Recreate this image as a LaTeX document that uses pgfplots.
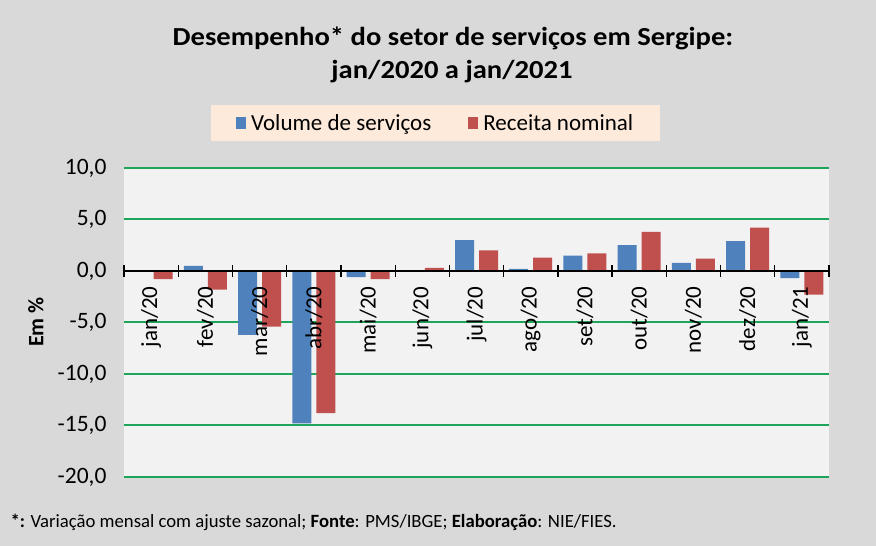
\documentclass[border=0pt]{standalone}
\usepackage{pgfplots}
\pgfplotsset{compat=1.18}
\usepackage{fontspec}
\setmainfont{Carlito}
\definecolor{bgc}{HTML}{D9D9D9}
\definecolor{plotc}{HTML}{F2F2F2}
\definecolor{legc}{HTML}{FDEADA}
\definecolor{bluec}{HTML}{4F81BD}
\definecolor{redc}{HTML}{C0504D}
\definecolor{gridc}{HTML}{1FA55A}
\pgfplotsset{
 base/.style={
  at={(124pt,69pt)}, anchor=south west,
  scale only axis, width=705pt, height=309pt,
  xmin=-0.5, xmax=12.5, ymin=-20, ymax=10,
 },
}
\pgfplotstableread{
x vol rec
0 0.0 -0.8
1 0.5 -1.8
2 -6.2 -5.4
3 -14.8 -13.8
4 -0.6 -0.8
5 0.0 0.3
6 3.0 2.0
7 0.2 1.3
8 1.5 1.7
9 2.5 3.8
10 0.8 1.2
11 2.9 4.2
12 -0.7 -2.3
}\datatab
\begin{document}
\begin{tikzpicture}
\fill[bgc] (0pt,0pt) rectangle (876pt,546pt);
\node[font=\bfseries\fontsize{26}{30}\selectfont] at (453pt,508pt) {\scalebox{1.1}[1]{Desempenho* do setor de serviços em Sergipe:}};
\node[font=\bfseries\fontsize{26}{30}\selectfont] at (452pt,474pt) {\scalebox{1.1}[1]{jan/2020 a jan/2021}};
\node[font=\bfseries\fontsize{22}{26}\selectfont, rotate=90] at (36pt,224pt) {Em \%};
\node[anchor=west, font=\fontsize{18.7}{22}\selectfont] at (7pt,24pt) {\textbf{*:} Variação mensal com ajuste sazonal; \textbf{Fonte}: PMS/IBGE; \textbf{Elaboração}: NIE/FIES.};
\begin{axis}[
 base,
 axis x line=none, axis y line*=left,
 y axis line style={draw=none},
 axis background/.style={fill=plotc},
 xtick=\empty,
 ytick={-20,-15,...,10},
 major y tick style={draw=none},
 yticklabel style={font=\fontsize{23.5}{26}\selectfont, xshift=-14pt},
 /pgf/number format/.cd, fixed, fixed zerofill, precision=1, use comma, assume math mode=true,
 /pgfplots/.cd,
 ymajorgrids, grid style={gridc, line width=2pt},
 legend style={at={(0.442,1.146)}, anchor=center, fill=legc, draw=none, legend columns=2,
   font=\fontsize{23}{26}\selectfont, inner xsep=25pt, inner ysep=7pt,
   /tikz/every even column/.append style={column sep=35pt}},
 legend image code/.code={\fill[#1] (0pt,-6pt) rectangle (10pt,6pt); \path (13pt,0pt);},
]
\addplot[ybar, bar width=19pt, bar shift=-12pt, fill=bluec, draw=none] table[x=x,y=vol]{\datatab};
\addplot[ybar, bar width=19pt, bar shift=12pt, fill=redc, draw=none] table[x=x,y=rec]{\datatab};
\legend{Volume de serviços, Receita nominal}
\end{axis}
\begin{axis}[
 base,
 axis x line*=middle, axis y line=none,
 x axis line style={black, line width=1.5pt},
 ytick=\empty,
 xtick={0,...,12},
 xticklabels={jan/20,fev/20,mar/20,abr/20,mai/20,jun/20,jul/20,ago/20,set/20,out/20,nov/20,dez/20,jan/21},
 major x tick style={draw=none},
 minor xtick={-0.5,0.5,...,12.5},
 minor tick length=12pt,
 minor x tick style={black, line width=1.3pt},
 tick align=center,
 xticklabel shift=10pt,
 xticklabel style={rotate=90, anchor=east, font=\fontsize{23}{26}\selectfont},
]
\addplot[draw=none] coordinates {(0,0)};
\end{axis}
\end{tikzpicture}
\end{document}
